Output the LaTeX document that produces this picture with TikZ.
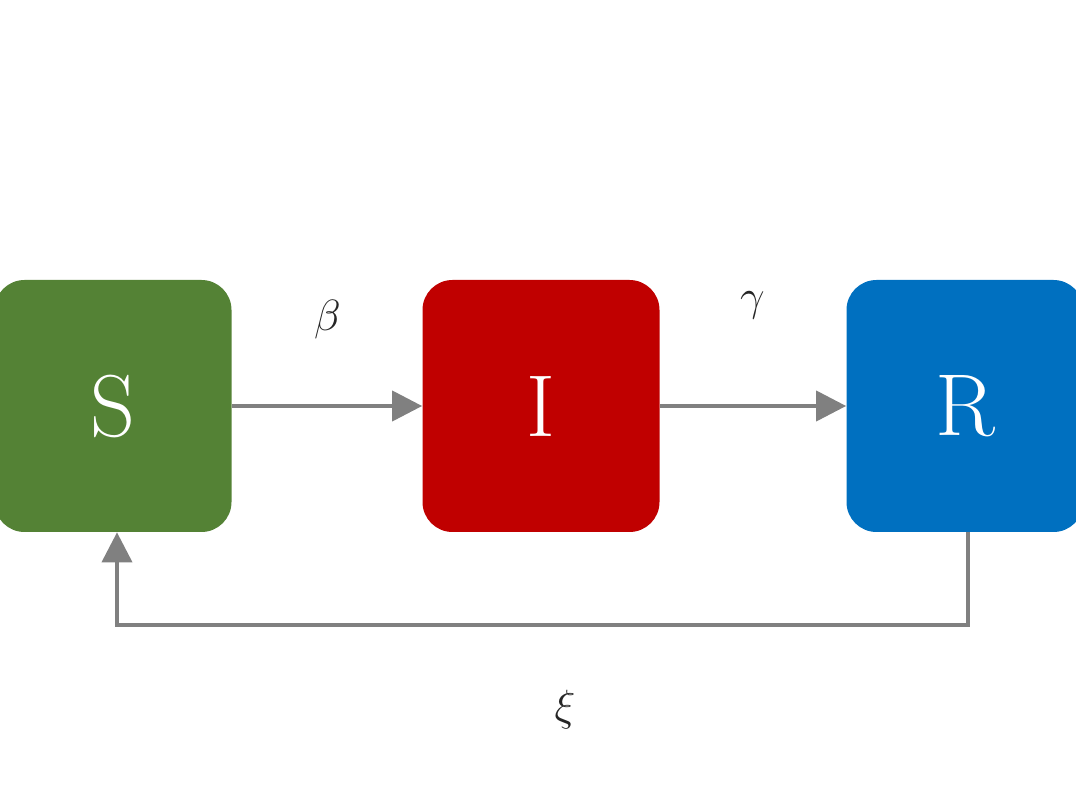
\documentclass[tikz,border=0pt]{standalone}
\usepackage{tikz}
\usetikzlibrary{arrows.meta,positioning}
\definecolor{sgreen}{RGB}{84,130,53}
\definecolor{ired}{RGB}{192,0,0}
\definecolor{rblue}{RGB}{0,112,192}
\definecolor{flow}{RGB}{128,128,128}
\begin{document}
\begin{tikzpicture}[box/.style={rounded corners=0.6cm, minimum width=4.74cm, minimum height=5.04cm, text=white, font=\fontsize{50}{60}\selectfont},
  flw/.style={draw=flow, line width=0.08cm, -{Triangle[length=0.6cm,width=0.6cm]}},
  rate/.style={font=\fontsize{60}{70}\selectfont, text=black!85}]
    \useasboundingbox (0,0) rectangle (21.52,-16.06);
    \clip (0,0) rectangle (21.52,-16.06);

    \node[box, fill=sgreen] (sus) at (2.26,-8.12)  {S};
    \node[box, fill=ired]   (inf) at (10.82,-8.12) {I};
    \node[box, fill=rblue]  (rec) at (19.30,-8.12) {R};

    \coordinate (rbot) at (19.36,-12.50);
    \coordinate (sbot) at (2.34,-12.50);

    \draw[flw] (sus) -- (inf);
    \draw[flw] (inf) -- (rec);
    \draw[flw] (rec.south -| rbot) -- (rbot) -- (sbot) -- (sus.south -| sbot);

    \node[rate] (beta)  at (6.55,-6.40) {$\beta$};
    \node[rate] (gamma) at (15.05,-6.10) {$\gamma$};
    \node[rate] (xi)    at (11.30,-14.20) {$\xi$};
\end{tikzpicture}
\end{document}
